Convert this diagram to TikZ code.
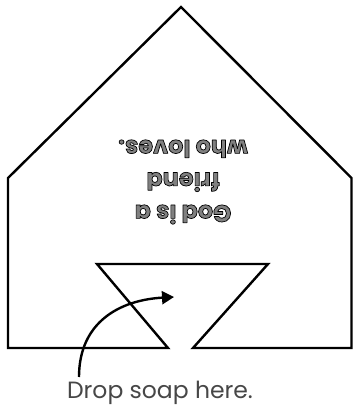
\documentclass[tikz,border=0pt]{standalone}
\usepackage{fontspec}
\setmainfont{Poppins}
\usetikzlibrary{arrows.meta}
\newcommand{\outlinedtext}[1]{\special{pdf:code q 2 Tr 0.7 w 0 0 0 RG 1 j}#1\special{pdf:code Q}}
\begin{document}
\begin{tikzpicture}[x=1pt,y=-1pt,
  outline/.style={line width=2.4pt,line join=miter},
  msg/.style={rotate=180,align=center,text=black!50,font=\fontsize{24}{32.5}\selectfont\bfseries},
  captiontext/.style={text=black!72,font=\fontsize{23.5}{28}\selectfont},
  pointer/.style={line width=2.4pt,-{Triangle[length=12pt,width=13pt]}}]
\useasboundingbox (0,0) rectangle (353,411);
\fill[white] (0,0) rectangle (353,411);
\draw[outline] (168,348) -- (8,348) -- (8,178) -- (181,7) -- (351.5,178) -- (351.5,348) -- (193,348) -- (268,264) -- (97,264) -- cycle;
\node[msg] (msg) at (183,182) {\outlinedtext{God is a}\\\outlinedtext{friend}\\\outlinedtext{who loves.}};
\node[captiontext] (caption) at (160,393) {Drop soap here.};
\coordinate (start) at (79,377);
\coordinate (tip) at (174,297);
\draw[pointer] (start) .. controls (79,322) and (120,300) .. (tip);
\end{tikzpicture}
\end{document}
